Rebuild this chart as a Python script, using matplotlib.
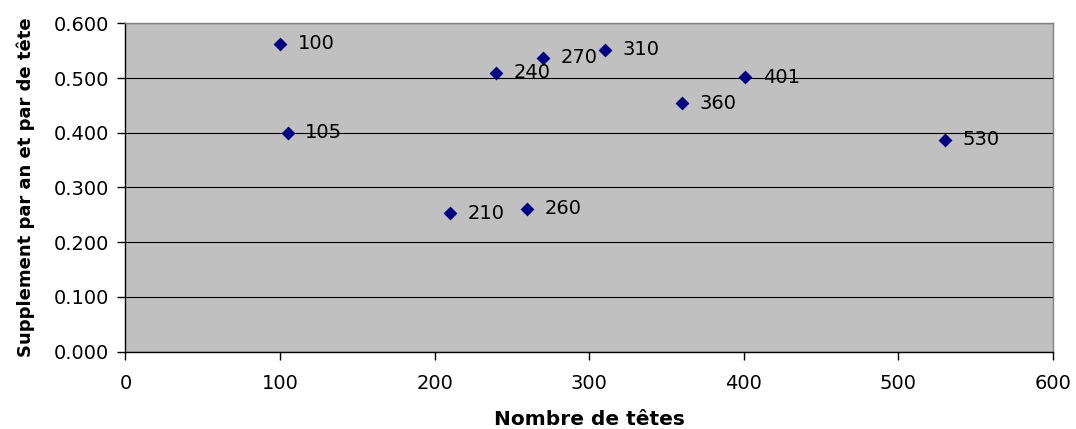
import matplotlib
matplotlib.use("Agg")
import matplotlib.pyplot as plt
from matplotlib.ticker import FormatStrFormatter, MultipleLocator

plt.rcParams['font.family'] = ['DejaVu Sans']

# Herd size (number of heads) and yearly supplement per head
heads = [100, 105, 210, 240, 260, 270, 310, 360, 401, 530]
supplement = [0.563, 0.400, 0.253, 0.510, 0.261, 0.537, 0.552, 0.454, 0.501, 0.387]
point_labels = [str(h) for h in heads]

fig = plt.figure(figsize=(10.76, 4.29), dpi=100)
ax = fig.add_axes([0.1166, 0.1802, 0.862, 0.7655])
ax.set_facecolor('#C0C0C0')

ax.scatter(heads, supplement, marker='D', s=50, color='#000080', zorder=3, linewidths=0)
for x, y, lab in zip(heads, supplement, point_labels):
    ax.annotate(lab, (x, y), xytext=(12.5, 0), textcoords='offset points',
                va='center', ha='left', fontsize=14, color='black', zorder=4)

ax.set_xlim(0, 600)
ax.set_ylim(0, 0.6)
ax.xaxis.set_major_locator(MultipleLocator(100))
ax.yaxis.set_major_locator(MultipleLocator(0.1))
ax.yaxis.set_major_formatter(FormatStrFormatter('%.3f'))

ax.grid(axis='y', color='black', linewidth=0.8, zorder=1)
ax.set_axisbelow(True)

ax.spines['left'].set_color('black')
ax.spines['bottom'].set_color('black')
ax.spines['top'].set_color('#808080')
ax.spines['right'].set_color('#808080')
for s in ax.spines.values():
    s.set_linewidth(1.0)

ax.tick_params(axis='both', direction='out', length=6, width=1, labelsize=14,
               colors='black')
ax.tick_params(axis='x', pad=10)
ax.tick_params(axis='y', pad=6)

ax.set_xlabel('Nombre de têtes', fontsize=14.5, fontweight='bold', labelpad=12)
ax.set_ylabel('Supplement par an et par de tête', fontsize=13, fontweight='bold', labelpad=13)

fig.savefig('out.png', dpi=100)
